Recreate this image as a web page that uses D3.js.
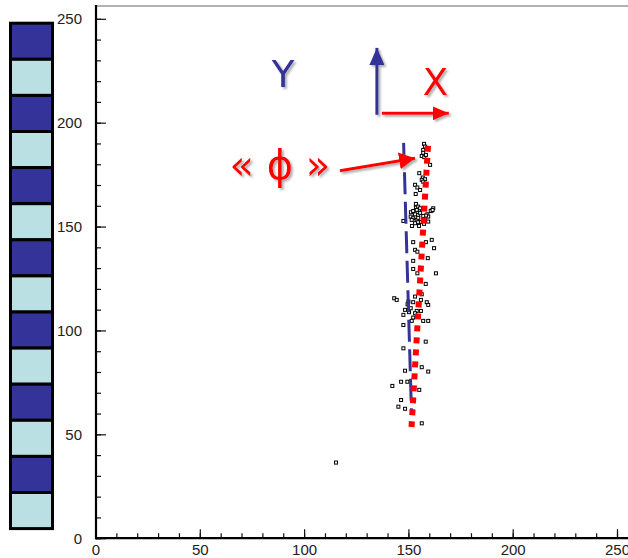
<!DOCTYPE html>
<html>
<head>
<meta charset="utf-8">
<script src="https://d3js.org/d3.v7.min.js"></script>
<style>
    body { margin: 0; background: #fff; }
    svg .tick text { font-family: "Liberation Sans", Arial, sans-serif; font-size: 15px; fill: #222; }
    .anno { font-family: "DejaVu Sans", sans-serif; }
</style>
</head>
<body>
<svg id="svg" width="628" height="558"></svg>
<script>
    // colour strip on the left, top to bottom
    let strips = ['dark', 'light', 'dark', 'light', 'dark', 'light', 'dark',
                  'light', 'dark', 'light', 'dark', 'light', 'dark', 'light'];

    let xTicks = [0, 50, 100, 150, 200, 250];
    let yTicks = [0, 50, 100, 150, 200, 250];

    // hits (open squares)
    let hitX = [157.5, 158.0, 157.1, 156.4, 157.6, 160.4, 155.2, 156.9, 158.0, 156.4, 157.1, 153.2, 154.3, 155.6, 153.5,
                153.6, 153.6, 154.7, 161.9, 161.2, 155.1, 157.1, 158.4,
                151.2, 152.3, 154.0, 153.2, 151.1, 152.3, 151.6, 154.0, 154.7, 159.1, 159.5, 158.4, 160.7, 161.6,
                147.6, 153.2, 154.7, 158.0, 159.5, 155.6, 155.6, 157.1, 154.7, 156.0, 157.5, 151.7, 155.1,
                152.3, 161.2, 158.4, 153.2, 154.3, 162.3, 159.3, 152.3, 152.3, 154.3, 163.2,
                158.3, 143.2, 144.4, 153.2, 156.4, 156.0, 150.0, 152.3, 158.8, 159.5, 149.6, 151.1, 148.4, 154.0,
                156.0, 150.3, 147.6, 153.2, 152.3, 157.1, 159.5, 151.6, 147.6, 158.3, 147.6, 156.4, 159.5, 148.4,
                146.5, 149.5, 142.3, 155.2, 146.5, 145.2, 148.4, 156.4, 115.3];
    let hitY = [189.8, 188.5, 186.9, 184.0, 183.4, 179.7, 175.7, 173.6, 172.8, 172.5, 171.6, 170.1, 168.8, 167.6, 165.7,
                160.9, 159.1, 159.6, 158.8, 157.7, 158.0, 185.5, 184.5,
                156.9, 157.5, 158.0, 155.9, 154.8, 154.0, 153.2, 153.2, 155.6, 155.9, 154.8, 155.3, 157.5, 158.0,
                152.7, 151.6, 152.1, 153.2, 152.4, 158.8, 156.6, 155.1, 154.2, 152.2, 151.3, 150.3, 150.3,
                142.5, 143.6, 142.5, 138.8, 137.9, 139.6, 134.8, 133.5, 129.6, 127.5, 127.5,
                122.4, 115.5, 114.7, 116.3, 117.4, 114.7, 113.9, 113.6, 113.6, 112.3, 112.6, 110.7, 109.9, 109.4,
                109.4, 108.8, 107.5, 108.3, 106.2, 104.6, 104.6, 104.6, 102.6, 94.6, 91.4, 82.3, 80.2, 80.6,
                75.3, 75.3, 73.3, 71.4, 66.5, 63.3, 62.3, 55.3, 36.4];

    // fitted tracks
    let dashedTrackX = [147.7, 151.5];
    let dashedTrackY = [190.3, 59.8];
    let dottedTrackX = [159.4, 151.5];
    let dottedTrackY = [188.9, 53.5];

    let svg = d3.select('#svg');

    let xScale = d3.scaleLinear().domain([0, 250]).range([95.5, 617]);
    let yScale = d3.scaleLinear().domain([0, 250]).range([538.2, 18.8]);

    let defs = svg.append('defs');
    let shadow = defs.append('filter').attr('id', 'shadow')
        .attr('x', '-20%').attr('y', '-20%').attr('width', '150%').attr('height', '150%');
    shadow.append('feDropShadow')
        .attr('dx', 2).attr('dy', 2).attr('stdDeviation', 1.2)
        .attr('flood-color', '#777').attr('flood-opacity', 0.6);

    function marker(id, color, len, wid) {
        defs.append('marker')
            .attr('id', id)
            .attr('markerUnits', 'userSpaceOnUse')
            .attr('viewBox', `0 ${-wid / 2} ${len} ${wid}`)
            .attr('refX', len).attr('refY', 0)
            .attr('markerWidth', len).attr('markerHeight', wid)
            .attr('orient', 'auto')
            .append('path')
            .attr('d', `M0,${-wid / 2}L${len},0L0,${wid / 2}Z`)
            .attr('fill', color);
    }
    marker('headBlue', '#333399', 17, 15);
    marker('headRed', '#ff0000', 16, 14);
    marker('headRed2', '#ff0000', 16, 17);

    // colour strip
    let stripScale = d3.scaleBand().domain(d3.range(strips.length)).range([23.2, 528.6]);
    svg.selectAll('.strip')
        .data(strips)
        .enter()
        .append('rect')
        .attr('class', 'strip')
        .attr('x', 10.5)
        .attr('y', (d, i) => stripScale(i))
        .attr('width', 42)
        .attr('height', stripScale.bandwidth())
        .attr('fill', d => d == 'dark' ? '#333399' : '#bbe0e3')
        .attr('stroke', 'black')
        .attr('stroke-width', 3);

    // frame top
    svg.append('line')
        .attr('x1', 96).attr('x2', 628).attr('y1', 6).attr('y2', 6)
        .attr('stroke', '#999').attr('stroke-width', 1.5);

    // minor ticks
    let xMinor = d3.axisBottom(xScale).ticks(25).tickSize(-5).tickFormat('');
    let yMinor = d3.axisLeft(yScale).ticks(25).tickSize(-5).tickFormat('');
    let xMajor = d3.axisBottom(xScale).tickValues(xTicks).tickSize(-9).tickPadding(6);
    let yMajor = d3.axisLeft(yScale).tickValues(yTicks).tickSize(-10).tickPadding(14);

    [xMinor, xMajor].forEach(ax => {
        let g = svg.append('g').attr('transform', `translate(0, ${yScale(0)})`).call(ax);
        g.select('.domain').remove();
        g.selectAll('.tick line').attr('stroke', '#111').attr('stroke-width', 1.2);
    });
    [yMinor, yMajor].forEach(ax => {
        let g = svg.append('g').attr('transform', 'translate(96, 0)').call(ax);
        g.select('.domain').remove();
        g.selectAll('.tick line').attr('stroke', '#111').attr('stroke-width', 1.2);
    });

    // axis lines
    svg.append('line')
        .attr('x1', 96).attr('x2', 96).attr('y1', 5).attr('y2', yScale(0) + 1)
        .attr('stroke', 'black').attr('stroke-width', 2.2);
    svg.append('line')
        .attr('x1', 95).attr('x2', 628).attr('y1', yScale(0)).attr('y2', yScale(0))
        .attr('stroke', 'black').attr('stroke-width', 2.2);

    // hits
    let hits = hitX.map((x, i) => ({x: x, y: hitY[i]}));
    svg.selectAll('.hit')
        .data(hits)
        .enter()
        .append('rect')
        .attr('class', 'hit')
        .attr('x', d => xScale(d.x) - 1.5)
        .attr('y', d => yScale(d.y) - 1.5)
        .attr('width', 3)
        .attr('height', 3)
        .attr('fill', 'white')
        .attr('stroke', 'black')
        .attr('stroke-width', 1);

    // tracks
    let line = d3.line().x(d => xScale(d[0])).y(d => yScale(d[1]));
    svg.append('path')
        .attr('d', line(dashedTrackX.map((x, i) => [x, dashedTrackY[i]])))
        .attr('stroke', '#333399')
        .attr('stroke-width', 3)
        .attr('stroke-dasharray', '22 7.5')
        .attr('fill', 'none');
    svg.append('path')
        .attr('d', line(dottedTrackX.map((x, i) => [x, dottedTrackY[i]])))
        .attr('stroke', '#ff0000')
        .attr('stroke-width', 6)
        .attr('stroke-dasharray', '6 6')
        .attr('fill', 'none');

    // annotations
    let anno = svg.append('g').attr('filter', 'url(#shadow)');

    anno.append('text')
        .attr('class', 'anno')
        .attr('x', xScale(89.9)).attr('y', yScale(217.2))
        .attr('text-anchor', 'middle')
        .attr('font-size', 37)
        .attr('fill', '#333399')
        .text('Y');

    anno.append('line')
        .attr('x1', xScale(134.9)).attr('x2', xScale(134.9))
        .attr('y1', yScale(203.8)).attr('y2', yScale(236.0))
        .attr('stroke', '#333399').attr('stroke-width', 3)
        .attr('marker-end', 'url(#headBlue)');

    anno.append('line')
        .attr('x1', xScale(137.3)).attr('x2', xScale(169.4))
        .attr('y1', yScale(204.5)).attr('y2', yScale(204.5))
        .attr('stroke', '#ff0000').attr('stroke-width', 3)
        .attr('marker-end', 'url(#headRed)');

    anno.append('text')
        .attr('class', 'anno')
        .attr('x', xScale(162.9)).attr('y', yScale(213.4))
        .attr('text-anchor', 'middle')
        .attr('font-size', 37)
        .attr('fill', '#ff0000')
        .text('X');

    anno.append('text')
        .attr('class', 'anno')
        .attr('x', xScale(88.4)).attr('y', yScale(172.9))
        .attr('text-anchor', 'middle')
        .attr('font-size', 40)
        .attr('fill', '#ff0000')
        .text('« ϕ »');

    anno.append('line')
        .attr('x1', xScale(117.2)).attr('x2', xScale(153.2))
        .attr('y1', yScale(176.9)).attr('y2', yScale(182.9))
        .attr('stroke', '#ff0000').attr('stroke-width', 3)
        .attr('marker-end', 'url(#headRed2)');
</script>
</body>
</html>
